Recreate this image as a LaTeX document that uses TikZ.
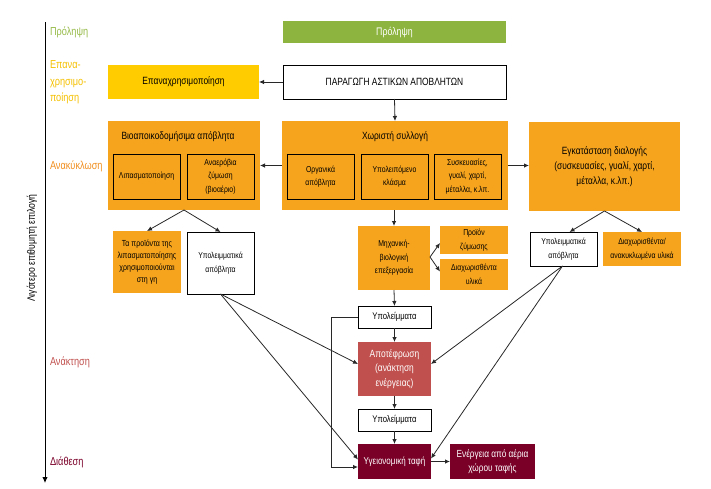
\documentclass[tikz,border=0pt]{standalone}
\usepackage{fontspec}
\setmainfont{Liberation Sans}[FakeStretch=0.8]
\usetikzlibrary{arrows.meta,calc}
\definecolor{cgreen}{RGB}{141,180,62}
\definecolor{cgreentxt}{RGB}{150,186,72}
\definecolor{cyellow}{RGB}{255,204,0}
\definecolor{cyellowtxt}{RGB}{244,192,0}
\definecolor{corange}{RGB}{246,164,30}
\definecolor{corangetxt}{RGB}{240,142,30}
\definecolor{cred}{RGB}{192,80,77}
\definecolor{cmaroon}{RGB}{122,0,40}
\definecolor{cline}{RGB}{40,40,40}
\begin{document}
\begin{tikzpicture}[x=1pt,y=-1pt,
  every node/.style={inner sep=0pt, outer sep=0pt, align=center, font=\fontsize{10.5}{14.5}\selectfont},
  wbox/.style={draw=black, line width=1pt, fill=white},
  obox/.style={fill=corange},
  ibox/.style={draw=black, line width=1pt, fill=corange},
  small/.style={font=\fontsize{8.6}{13.5}\selectfont},
  mid/.style={font=\fontsize{9.6}{13}\selectfont},
  lvl/.style={anchor=west, align=left, font=\fontsize{11.5}{16.5}\selectfont},
  arr/.style={draw=cline, line width=0.8pt, -{Latex[length=5pt,width=4.5pt]}},
]
\useasboundingbox (0,0) rectangle (711,488);

% axis
\coordinate (axtop) at (45,22);
\coordinate (axbot) at (45,483);
\draw[line width=1pt, -{Latex[length=6pt,width=5.5pt]}] (axtop) -- (axbot);
\node[rotate=90, font=\fontsize{10.8}{12}\selectfont] (axlabel) at (32,248) {Λιγότερο επιθυμητή επιλογή};

% level labels
\node[lvl, text=cgreentxt] (lprol) at (50,32) {Πρόληψη};
\node[lvl, text=cyellowtxt] (lepan) at (50,82.5) {Επανα-\\χρησιμο-\\ποίηση};
\node[lvl, text=corangetxt] (lanak) at (50,166) {Ανακύκλωση};
\node[lvl, text=cred] (lankt) at (50,362) {Ανάκτηση};
\node[lvl, text=cmaroon] (ldiat) at (50,462) {Διάθεση};

% top boxes
\node[fill=cgreen, text=white, font=\fontsize{11}{14}\selectfont, minimum width=223, minimum height=22] (prol) at (394.5,32) {Πρόληψη};
\node[wbox, minimum width=223, minimum height=34] (par) at (394.5,82) {ΠΑΡΑΓΩΓΗ ΑΣΤΙΚΩΝ ΑΠΟΒΛΗΤΩΝ};
\node[fill=cyellow, minimum width=151, minimum height=34] (epan) at (183.5,82) {Επαναχρησιμοποίηση};

% recycling row
\node[obox, minimum width=152, minimum height=89] (bio) at (184,165.5) {};
\node (biot) at (178,137) {Βιοαποικοδομήσιμα απόβλητα};
\node[ibox, small, minimum width=67, minimum height=45] (lip) at (146.5,176.5) {Λιπασματοποίηση};
\node[ibox, small, minimum width=67, minimum height=45] (ana) at (220.5,176.5) {Αναερόβια\\ζύμωση\\(βιοαέριο)};

\node[obox, minimum width=226, minimum height=89] (xor) at (395,165.5) {};
\node (xort) at (395,137) {Χωριστή συλλογή};
\node[ibox, small, minimum width=67, minimum height=45] (org) at (320.5,176.5) {Οργανικά\\απόβλητα};
\node[ibox, small, minimum width=67, minimum height=45] (ypk) at (394.5,176.5) {Υπολειπόμενο\\κλάσμα};
\node[ibox, small, minimum width=67, minimum height=45] (sys) at (467.5,176.5) {Συσκευασίες,\\γυαλί, χαρτί,\\μέταλλα, κ.λπ.};

\node[obox, minimum width=151, minimum height=89, font=\fontsize{10.5}{15}\selectfont] (egk) at (604.5,166.5) {Εγκατάσταση διαλογής\\(συσκευασίες, γυαλί, χαρτί,\\μέταλλα, κ.λπ.)};

% second row
\node[obox, font=\fontsize{8.8}{12}\selectfont, minimum width=68, minimum height=62] (prod) at (147,262) {Τα προϊόντα της\\λιπασματοποίησης\\χρησιμοποιούνται\\στη γη};
\node[wbox, small, minimum width=67, minimum height=62] (yl1) at (220.5,263) {Υπολειμματικά\\απόβλητα};

\node[obox, small, minimum width=72, minimum height=64] (mb) at (394,258) {Μηχανική-\\βιολογική\\επεξεργασία};
\node[obox, small, minimum width=68, minimum height=28] (pz) at (474,240) {Προϊόν\\ζύμωσης};
\node[obox, small, minimum width=68, minimum height=31] (dy) at (474,274.5) {Διαχωρισθέντα\\υλικά};

\node[wbox, small, minimum width=67, minimum height=34] (yl2) at (563.5,249) {Υπολειμματικά\\απόβλητα};
\node[obox, small, minimum width=78, minimum height=34] (dan) at (642,249) {Διαχωρισθέντα/\\ανακυκλωμένα υλικά};

% lower chain
\node[wbox, mid, minimum width=73, minimum height=22] (yp1) at (394.5,317) {Υπολείμματα};
\node[fill=cred, text=white, minimum width=73, minimum height=54] (apo) at (394.5,369) {Αποτέφρωση\\(ανάκτηση\\ενέργειας)};
\node[wbox, mid, minimum width=73, minimum height=22] (yp2) at (394.5,420) {Υπολείμματα};
\node[fill=cmaroon, text=white, font=\fontsize{10}{13}\selectfont, minimum width=73, minimum height=35] (taf) at (394.5,461.5) {Υγειονομική ταφή};
\node[fill=cmaroon, text=white, font=\fontsize{10.3}{14}\selectfont, minimum width=85, minimum height=35] (ene) at (492.5,461.5) {Ενέργεια από αέρια\\χώρου ταφής};

% connectors
\draw[arr] (par.west) -- (epan.east);
\draw[arr] (par.south) -- (xor.north);
\draw[arr] (xor.west) -- (bio.east);
\draw[arr] (xor.east) -- (egk.west |- xor.east);
\draw[arr] (bio.south) -- (prod.north);
\draw[arr] (bio.south) -- (yl1.north);
\draw[arr] (egk.south) -- ([xshift=6pt]yl2.north);
\draw[arr] (egk.south) -- (dan.north);
\draw[arr] (xor.south -| mb.north) -- (mb.north);
\draw[arr] ([yshift=1pt]mb.east) -- ([yshift=-3pt]pz.west);
\draw[arr] ([yshift=1pt]mb.east) -- ([yshift=3pt]dy.west);
\draw[arr] (mb.south) -- (yp1.north);
\draw[arr] (yp1.south) -- (apo.north);
\draw[arr] (apo.south) -- (yp2.north);
\draw[arr] (yp2.south) -- (taf.north);
\draw[arr] (taf.east) -- (ene.west);
\draw[arr] (yp1.west) -- ++(-27,0) |- ([yshift=-5.5pt]taf.west);
\draw[arr] (yl1.south) -- ([yshift=5pt]apo.west);
\draw[arr] (yl1.south) -- ([yshift=2pt]taf.west);
\draw[arr] ([xshift=-1pt]yl2.south) -- ([yshift=5pt]apo.east);
\draw[arr] ([xshift=-1pt]yl2.south) -- ([yshift=3pt]taf.east);
\end{tikzpicture}
\end{document}
